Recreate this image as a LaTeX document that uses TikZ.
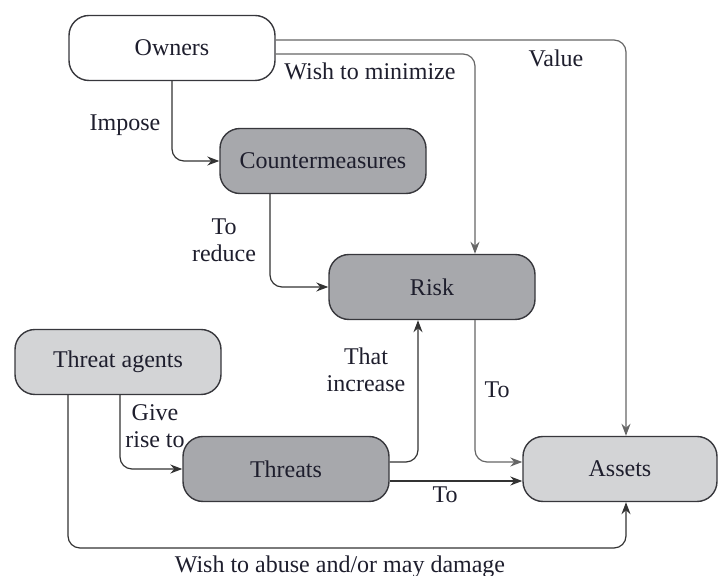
\documentclass[tikz,border=0pt]{standalone}
\usepackage{fontspec}
\setmainfont{Liberation Serif}
\usetikzlibrary{arrows.meta}
\definecolor{txtcol}{RGB}{30,30,45}
\definecolor{darkbox}{RGB}{167,168,172}
\definecolor{lightbox}{RGB}{211,212,214}
\definecolor{edgecol}{RGB}{55,55,60}
\begin{document}
\begin{tikzpicture}[x=0.5pt, y=-0.5pt, >={Stealth[length=6pt,width=4.5pt]},
    box/.style={draw=edgecol, line width=0.7pt, rounded corners=10pt,
        minimum width=103pt, minimum height=32.5pt, inner sep=0pt,
        text=txtcol, font=\fontsize{12}{13.5}\selectfont},
    lbl/.style={text=txtcol, align=center, inner sep=0pt,
        font=\fontsize{12}{13.5}\selectfont},
    conn/.style={->, draw=black!80, line width=0.6pt, rounded corners=6pt}]
    \useasboundingbox (0,0) rectangle (719,576);
    % boxes
    \node[box, fill=white] (owners) at (172,48) {Owners};
    \node[box, fill=darkbox] (counter) at (323,161) {Countermeasures};
    \node[box, fill=darkbox] (risk) at (432,287) {Risk};
    \node[box, fill=lightbox] (agents) at (118,362) {Threat agents};
    \node[box, fill=darkbox] (threats) at (286,469) {Threats};
    \node[box, fill=lightbox, minimum width=97pt] (assets) at (620,469) {Assets};
    \coordinate (bottom) at (360,548);
    % connectors
    \draw[conn, draw=black!60] ([yshift=4pt]owners.east) -| ([xshift=3pt]assets.north);
    \draw[conn, draw=black!60] ([yshift=-3pt]owners.east) -| ([xshift=21.5pt]risk.north);
    \draw[conn] (owners.south) |- (counter.west);
    \draw[conn] ([xshift=-26.5pt]counter.south) |- (risk.west);
    \draw[conn] ([xshift=1pt]agents.south) |- (threats.west);
    \draw[conn] ([yshift=3.5pt]threats.east) -| ([xshift=-7pt]risk.south);
    \draw[conn] ([yshift=-6pt]threats.east) -- ([yshift=-6pt]assets.west);
    \draw[conn, draw=black!60] ([xshift=21.5pt]risk.south) |- ([yshift=3.5pt]assets.west);
    \draw[conn] ([xshift=-25pt]agents.south) |- (bottom) -| ([xshift=3pt]assets.south);
    % labels
    \node[lbl] (lvalue) at (556,58) {Value};
    \node[lbl] (lmin) at (370,71) {Wish to minimize};
    \node[lbl] (limpose) at (125,125) {Impose};
    \node[lbl] (lreduce) at (224,240) {To\\reduce};
    \node[lbl] (lrise) at (155,426) {Give\\rise to};
    \node[lbl] (lincrease) at (366,370) {That\\increase};
    \node[lbl] (lto) at (497,390) {To};
    \node[lbl] (lto2) at (445,495) {To};
    \node[lbl] (labuse) at (340,567) {Wish to abuse and/or may damage};
\end{tikzpicture}
\end{document}
